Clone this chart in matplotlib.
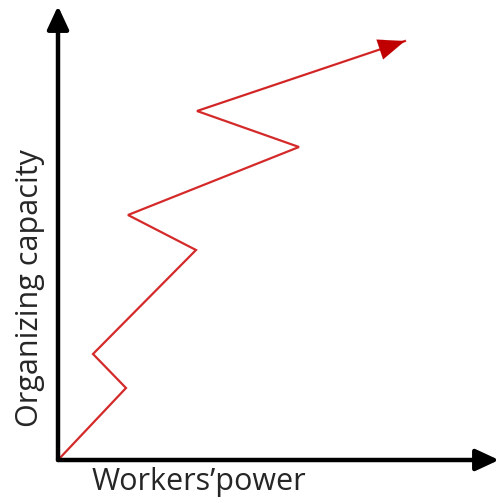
import matplotlib
matplotlib.use("Agg")
import matplotlib.pyplot as plt

# zigzag path (pixel-like coordinates, y grows downward)
path_x = [58, 126, 93, 196, 128, 299, 197, 405]
path_y = [460, 388, 354, 250, 215, 147, 111, 41]

origin = (58, 460)
x_axis_end = (499, 460)
y_axis_end = (58, 6)

x_label = "Workers’power"
y_label = "Organizing capacity"


def printplot():
    fig = plt.figure(figsize=(4.99, 5.0), dpi=100)
    ax = fig.add_axes([0, 0, 1, 1])
    ax.set_xlim(0, 499)
    ax.set_ylim(500, 0)
    ax.axis("off")

    # axes arrows
    for end in (x_axis_end, y_axis_end):
        ax.annotate("", xy=end, xytext=origin,
                    arrowprops=dict(arrowstyle="-|>,head_length=1.4,head_width=0.65",
                                    color="black", lw=3.2, shrinkA=0, shrinkB=0))

    # red path
    ax.plot(path_x, path_y, color="#d42a2a", lw=1.6, solid_joinstyle="miter")
    ax.annotate("", xy=(path_x[-1], path_y[-1]), xytext=(path_x[-2], path_y[-2]),
                arrowprops=dict(arrowstyle="-|>,head_length=1.9,head_width=0.75",
                                color="#c00000", lw=0.1, shrinkA=0, shrinkB=0))

    ax.text(92, 482, x_label, fontsize=22, color="#262626", family="Open Sans",
            ha="left", va="center")
    ax.text(30, 288, y_label, fontsize=22, color="#262626", family="Open Sans",
            rotation=90, ha="center", va="center")

    fig.savefig("out.png", dpi=100)


if __name__ == "__main__":
    printplot()
